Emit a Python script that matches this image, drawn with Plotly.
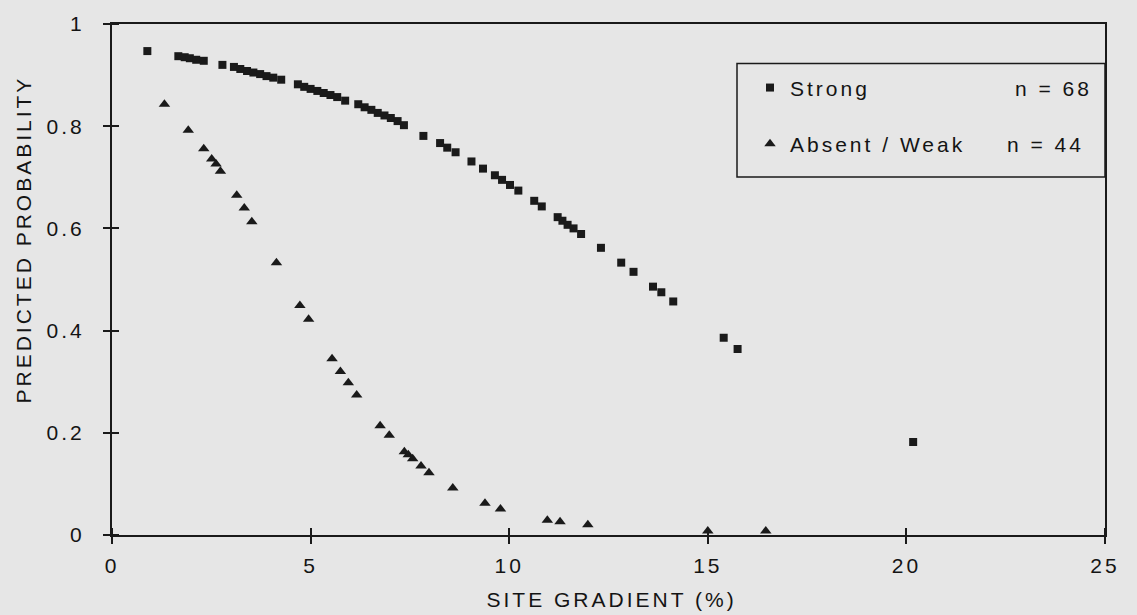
import plotly.graph_objects as go

# ---- data ----
strong_x = [0.89, 1.67, 1.83, 1.96, 2.12, 2.31, 2.78, 3.07, 3.23, 3.40, 3.56, 3.73, 3.89, 4.06, 4.26,
            4.68, 4.84, 5.00, 5.17, 5.33, 5.50, 5.67, 5.87, 6.20, 6.36, 6.53, 6.69, 6.86, 7.02, 7.19,
            7.35, 7.84, 8.26, 8.44, 8.65, 9.05, 9.34, 9.64, 9.82, 10.02, 10.23, 10.63, 10.82, 11.22,
            11.34, 11.47, 11.62, 11.81, 12.31, 12.82, 13.13, 13.62, 13.83, 14.13, 15.40, 15.75, 20.17]
strong_y = [0.947, 0.937, 0.935, 0.933, 0.930, 0.928, 0.920, 0.916, 0.912, 0.908, 0.905, 0.902, 0.898,
            0.895, 0.891, 0.882, 0.877, 0.873, 0.869, 0.865, 0.861, 0.857, 0.850, 0.843, 0.837, 0.832,
            0.826, 0.821, 0.816, 0.810, 0.802, 0.781, 0.767, 0.758, 0.749, 0.731, 0.717, 0.704, 0.695,
            0.685, 0.674, 0.654, 0.643, 0.622, 0.615, 0.607, 0.600, 0.589, 0.562, 0.533, 0.515, 0.486,
            0.475, 0.457, 0.386, 0.364, 0.182]

weak_x = [1.32, 1.92, 2.31, 2.51, 2.62, 2.73, 3.14, 3.33, 3.52, 4.14, 4.73, 4.95, 5.54, 5.75, 5.95,
          6.16, 6.75, 6.98, 7.36, 7.46, 7.57, 7.78, 7.98, 8.58, 9.39, 9.78, 10.96, 11.28, 11.98,
          15.00, 16.46]
weak_y = [0.843, 0.792, 0.756, 0.736, 0.726, 0.712, 0.665, 0.640, 0.613, 0.533, 0.449, 0.422, 0.345,
          0.320, 0.298, 0.274, 0.214, 0.195, 0.163, 0.157, 0.149, 0.135, 0.122, 0.092, 0.062, 0.051,
          0.029, 0.026, 0.020, 0.008, 0.008]

x_ticks = [0, 5, 10, 15, 20, 25]
y_ticks = [0, 0.2, 0.4, 0.6, 0.8, 1]
y_ticklabels = ["0", "0.2", "0.4", "0.6", "0.8", "1"]
series_names = ["Strong", "Absent / Weak"]
series_counts = ["n = 68", "n = 44"]
x_title = "SITE GRADIENT (%)"
y_title = "PREDICTED PROBABILITY"

# ---- styling ----
FONT = "Liberation Sans, Arial, sans-serif"
INK = "#1a1a1a"
TXT = "#141414"
BG = "#e6e6e6"
W, H = 1137, 615
L, R, T, B = 112, 32, 17, 80
PW, PH = W - L - R, H - T - B


def px(x):
    return (x - L) / PW


def py(y):
    return (H - B - y) / PH


fig = go.Figure()
fig.add_trace(go.Scatter(
    x=strong_x, y=strong_y, mode="markers", name=series_names[0],
    marker=dict(symbol="square", size=8, color=INK), cliponaxis=False, legend="legend"))
fig.add_trace(go.Scatter(
    x=weak_x, y=weak_y, mode="markers", name=series_names[1],
    marker=dict(symbol="triangle-up", size=10, color=INK), cliponaxis=False, legend="legend2"))

axis_common = dict(
    showline=True, linewidth=2, linecolor=INK, mirror=True,
    showgrid=False, zeroline=False,
    ticks="outside", ticklen=7, tickwidth=1.5, tickcolor=INK,
    tickfont=dict(family=FONT, size=21, color=TXT),
)

fig.update_xaxes(
    range=[0, 25], tickvals=x_ticks, ticklabelstandoff=4,
    minor=dict(tickvals=x_ticks, ticks="inside", ticklen=7, tickwidth=1.5, tickcolor=INK, showgrid=False),
    **axis_common)
fig.update_yaxes(
    range=[0, 1], tickvals=y_ticks, ticktext=y_ticklabels, ticklabelstandoff=14,
    minor=dict(tickvals=y_ticks, ticks="inside", ticklen=7, tickwidth=1.5, tickcolor=INK, showgrid=False),
    **axis_common)

legend_style = dict(
    xanchor="left", yanchor="top", bgcolor="rgba(0,0,0,0)", borderwidth=0,
    font=dict(family=FONT, size=21, color=TXT))

fig.update_layout(
    width=W, height=H,
    margin=dict(l=L, r=R, t=T, b=B, pad=0),
    paper_bgcolor=BG, plot_bgcolor=BG,
    font=dict(family=FONT, size=21, color=TXT),
    showlegend=True,
    legend=dict(x=px(750), y=py(61), **legend_style),
    legend2=dict(x=px(750), y=py(118), **legend_style),
    shapes=[dict(type="rect", xref="paper", yref="paper",
                 x0=px(737), x1=1.0, y0=py(172), y1=py(57),
                 line=dict(color=INK, width=1.5), fillcolor="rgba(0,0,0,0)")],
    annotations=[
        dict(text=series_counts[0], xref="paper", yref="paper", x=px(1022), y=py(82),
             xanchor="left", yanchor="middle", showarrow=False,
             font=dict(family=FONT, size=21, color=TXT)),
        dict(text=series_counts[1], xref="paper", yref="paper", x=px(1014), y=py(139),
             xanchor="left", yanchor="middle", showarrow=False,
             font=dict(family=FONT, size=21, color=TXT)),
        dict(text=x_title, xref="paper", yref="paper", x=px(611), y=py(600),
             xanchor="center", yanchor="middle", showarrow=False,
             font=dict(family=FONT, size=21, color=TXT)),
        dict(text=y_title, xref="paper", yref="paper", x=px(23), y=py(236),
             xanchor="center", yanchor="middle", showarrow=False, textangle=-90,
             font=dict(family=FONT, size=21, color=TXT)),
    ],
)

css = ("var s=document.createElement('style');"
       "s.textContent='.main-svg text{letter-spacing:3px;}"
       " .scrollbox{clip-path:none !important;}"
       " .infolayer g[class^=legend] g{clip-path:none !important;}';"
       "document.head.appendChild(s);")
fig.write_html("out.html", post_script=css)
